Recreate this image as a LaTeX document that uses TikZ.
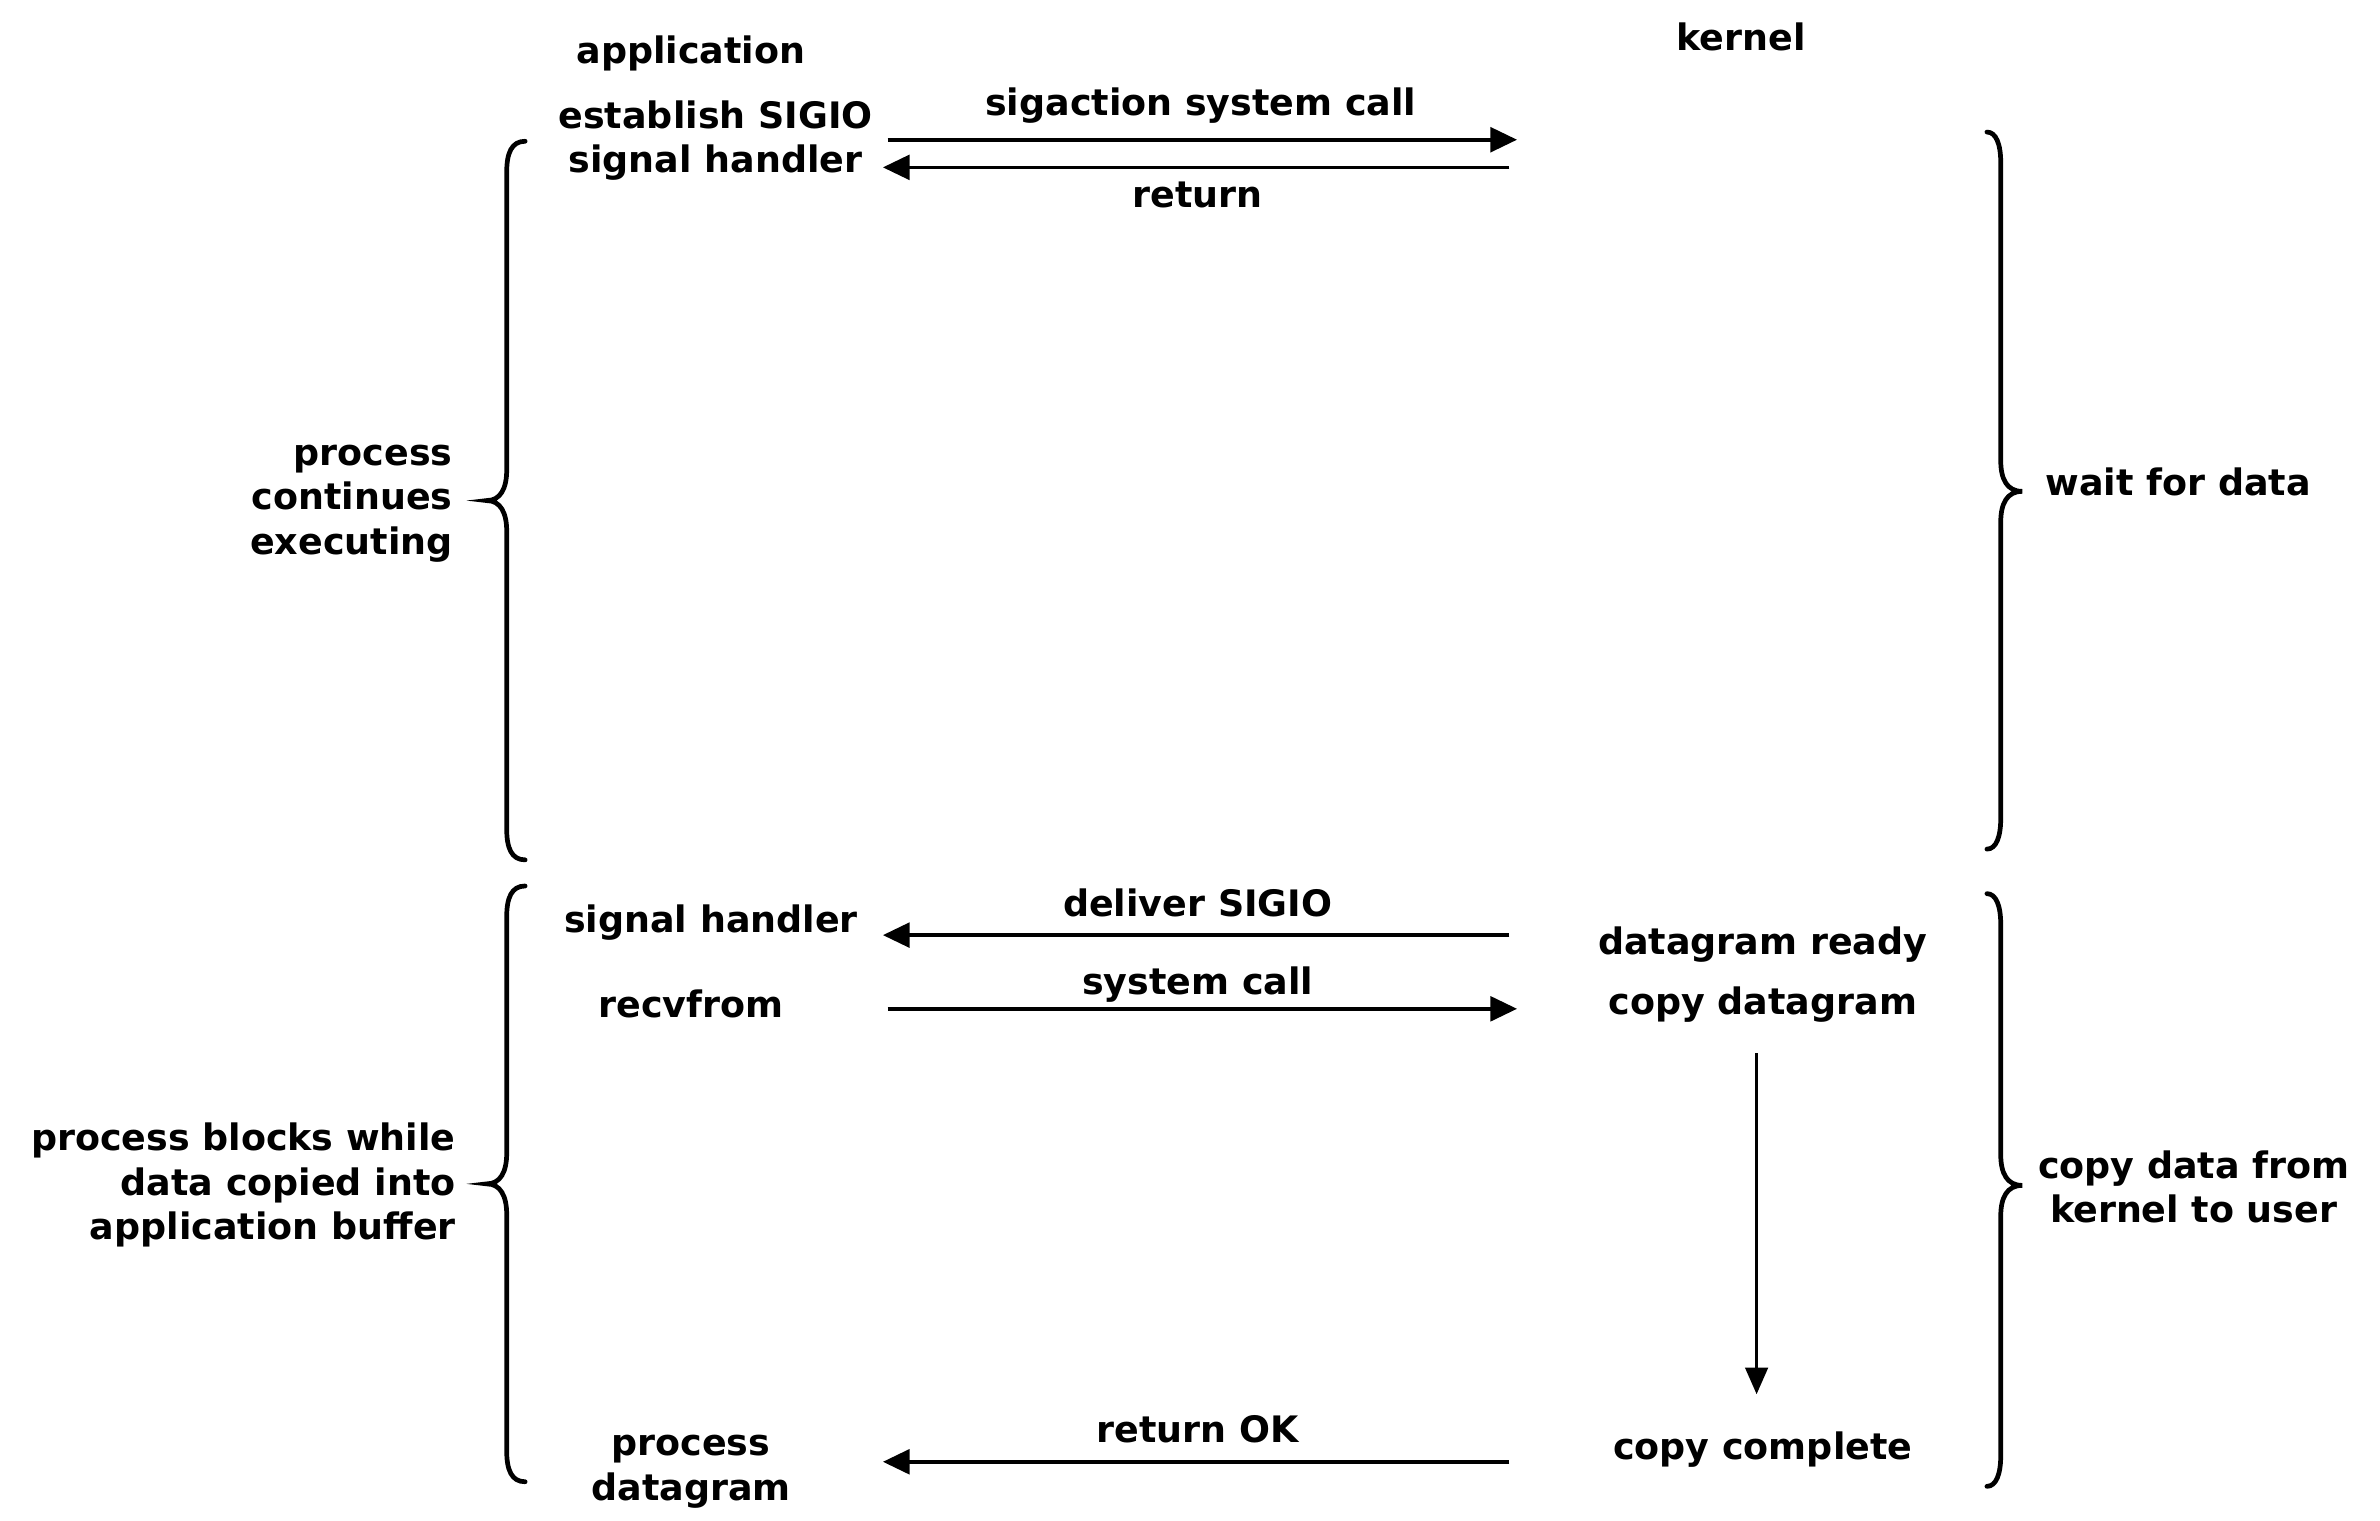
\documentclass[tikz,border=0pt]{standalone}
\usepackage{fontspec}
\setmainfont{DejaVu Sans}
\usetikzlibrary{arrows.meta}
\begin{document}
\begin{tikzpicture}[x=0.75pt,y=-0.75pt,
  txt/.style={font=\fontsize{17.8}{21.75}\selectfont\bfseries, inner sep=0pt, align=center},
  arr/.style={line width=1.8pt, -{Triangle[length=13pt,width=12pt]}},
  varr/.style={line width=1.5pt, -{Triangle[length=13pt,width=11pt]}},
  brc/.style={line width=2.3pt, line cap=round}]
\useasboundingbox (0,0) rectangle (1550,990.5);
% headings
\node[txt] (app) at (450,35) {application};
\node[txt] (kern) at (1134,24) {kernel};
% top exchange
\node[txt] (est) at (466,91.5) {establish SIGIO\\signal handler};
\node[txt] (sig) at (782,69) {sigaction system call};
\node[txt] (ret) at (780,127) {return};
\coordinate (a1s) at (578,91); \coordinate (a1e) at (988,91);
\coordinate (a2s) at (983,109); \coordinate (a2e) at (575,109);
\draw[arr] (a1s) -- (a1e);
\draw[arr] (a2s) -- (a2e);
% brace labels
\node[txt, align=right, anchor=east] (pce) at (295,328) {process\\continues\\executing};
\node[txt, anchor=west] (wfd) at (1332,314) {wait for data};
\node[txt, align=right, anchor=east] (pbw) at (297,772) {process blocks while\\data copied into\\application buffer};
\node[txt, anchor=west] (cdk) at (1327,773) {copy data from\\kernel to user};
% lower exchange
\node[txt] (sh2) at (463,601) {signal handler};
\node[txt] (dsig) at (780,588) {deliver SIGIO};
\node[txt] (dgr) at (1148,615) {datagram ready};
\node[txt] (recv) at (450,654) {recvfrom};
\node[txt] (sc) at (780,641) {system call};
\node[txt] (cpd) at (1148,654) {copy datagram};
\node[txt] (cpc) at (1148,944) {copy complete};
\node[txt] (pdg) at (450,958.5) {process\\datagram};
\node[txt] (rok) at (780,931) {return OK};
\coordinate (b1s) at (983,609); \coordinate (b1e) at (575,609);
\coordinate (b2s) at (578,657); \coordinate (b2e) at (988,657);
\coordinate (b3s) at (983,952); \coordinate (b3e) at (575,952);
\coordinate (vs) at (1144,686); \coordinate (ve) at (1144,908);
\draw[arr] (b1s) -- (b1e);
\draw[arr] (b2s) -- (b2e);
\draw[arr] (b3s) -- (b3e);
\draw[varr] (vs) -- (ve);
% braces
\draw[brc] (342,92) .. controls (333,92) and (330,100) .. (330,112) -- (330,306)
  .. controls (330,318) and (326,326) .. (317,326)
  .. controls (326,326) and (330,334) .. (330,346) -- (330,540)
  .. controls (330,552) and (333,560) .. (342,560);
\draw[brc] (1294,86) .. controls (1300,86) and (1303,94) .. (1303,106) -- (1303,300)
  .. controls (1303,312) and (1307,320) .. (1317,320)
  .. controls (1307,320) and (1303,328) .. (1303,340) -- (1303,533)
  .. controls (1303,545) and (1300,553) .. (1294,553);
\draw[brc] (342,577) .. controls (333,577) and (330,585) .. (330,597) -- (330,751)
  .. controls (330,763) and (326,771) .. (317,771)
  .. controls (326,771) and (330,779) .. (330,791) -- (330,945)
  .. controls (330,957) and (333,965) .. (342,965);
\draw[brc] (1294,582) .. controls (1300,582) and (1303,590) .. (1303,602) -- (1303,752)
  .. controls (1303,764) and (1307,772) .. (1317,772)
  .. controls (1307,772) and (1303,780) .. (1303,792) -- (1303,948)
  .. controls (1303,960) and (1300,968) .. (1294,968);
\end{tikzpicture}
\end{document}
